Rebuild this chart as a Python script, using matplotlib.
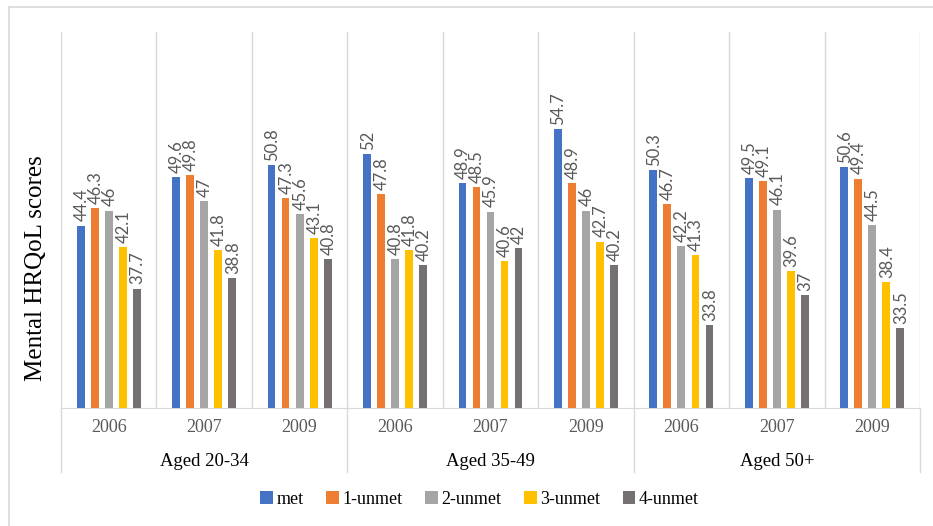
import numpy as np
import matplotlib
matplotlib.use("Agg")
import matplotlib.pyplot as plt
from matplotlib.patches import Patch
from matplotlib.lines import Line2D
import matplotlib.transforms as mtransforms

# data
age_groups = ["Aged 20-34", "Aged 35-49", "Aged 50+"]
years = ["2006", "2007", "2009"]
series = ["met", "1-unmet", "2-unmet", "3-unmet", "4-unmet"]
colors = ["#4472C4", "#ED7D31", "#A5A5A5", "#FFC000", "#767171"]

met = [44.4, 49.6, 50.8, 52, 48.9, 54.7, 50.3, 49.5, 50.6]
unmet1 = [46.3, 49.8, 47.3, 47.8, 48.5, 48.9, 46.7, 49.1, 49.4]
unmet2 = [46, 47, 45.6, 40.8, 45.9, 46, 42.2, 46.1, 44.5]
unmet3 = [42.1, 41.8, 43.1, 41.8, 40.6, 42.7, 41.3, 39.6, 38.4]
unmet4 = [37.7, 38.8, 40.8, 40.2, 42, 40.2, 33.8, 37, 33.5]
values = [met, unmet1, unmet2, unmet3, unmet4]

fig = plt.figure(figsize=(9.33, 5.26), dpi=100)
ax = fig.add_axes([61 / 933, 1 - 408 / 526, (920 - 61) / 933, (408 - 32) / 526])

n_groups = len(met)
centers = np.arange(n_groups) + 0.5
step = 0.147
width = 0.082

for k, (name, vals, col) in enumerate(zip(series, values, colors)):
    xs = centers + (k - 2) * step
    ax.bar(xs, vals, width=width, color=col, label=name, zorder=3)
    for x, v in zip(xs, vals):
        ax.annotate(f"{v:g}", (x, v), xytext=(0.5, 3), textcoords="offset points",
                    rotation=90, ha="center", va="bottom", fontsize=12,
                    family="Lato", color="#595959")

ax.set_ylim(25, 65)
ax.set_xlim(0, n_groups)

# separators between years inside the plot
for b in range(n_groups + 1):
    ax.axvline(b, color="#d9d9d9", lw=1, zorder=1)

for s in ["top", "right", "left"]:
    ax.spines[s].set_visible(False)
ax.spines["bottom"].set_color("#d9d9d9")
ax.set_xticks([])
ax.set_yticks([])

trans = mtransforms.blended_transform_factory(ax.transData, ax.transAxes)
# separators between age groups below the axis
for b in range(0, n_groups + 1, 3):
    ax.plot([b, b], [0, -64 / 376], color="#d9d9d9", lw=1, transform=trans, clip_on=False)

# year labels and age labels
for i in range(n_groups):
    ax.text(centers[i], -20 / 376, years[i % 3], transform=trans, ha="center", va="center",
            fontsize=13, family="Liberation Serif", color="#595959")
for j, lab in enumerate(age_groups):
    ax.text(3 * j + 1.5, -54 / 376, lab, transform=trans, ha="center", va="center",
            fontsize=13.5, family="Liberation Serif", color="black")

fig.text(36 / 933, 1 - 268 / 526, "Mental HRQoL scores", rotation=90, ha="center", va="center",
         fontsize=18, family="Liberation Serif")

# legend
handles = [Patch(facecolor=c, label=s) for s, c in zip(series, colors)]
fig.legend(handles=handles, loc="center", bbox_to_anchor=(0.514, 1 - 499 / 526), ncol=5,
           frameon=False, handlelength=0.7, handleheight=0.7, handletextpad=0.2,
           columnspacing=1.25, prop={"family": "Liberation Serif", "size": 13})

# outer frame
fig.add_artist(Line2D([9 / 933, 9 / 933], [0, 1 - 7 / 526], color="#d9d9d9", lw=1.2))
fig.add_artist(Line2D([9 / 933, 1], [1 - 7 / 526, 1 - 7 / 526], color="#d9d9d9", lw=1.2))

fig.savefig("out.png", dpi=100)
